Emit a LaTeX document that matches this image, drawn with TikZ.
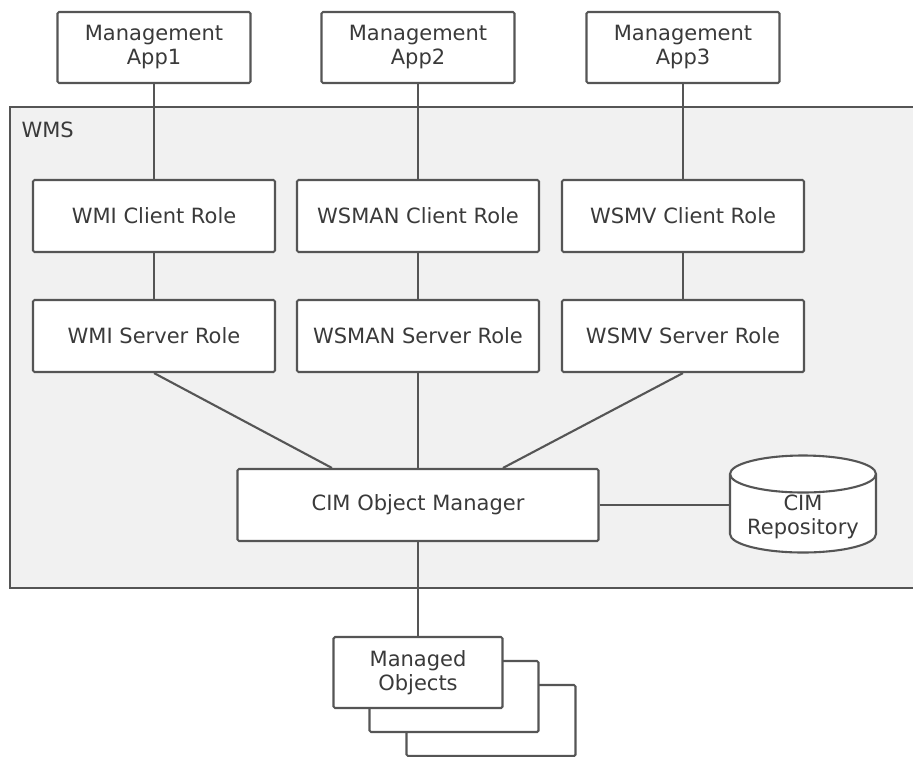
\documentclass[tikz,border=0pt]{standalone}
\usepackage{fontspec}
\setmainfont{DejaVu Sans}
\usetikzlibrary{calc}
\definecolor{edge}{HTML}{555555}
\definecolor{ink}{HTML}{3A3A3A}
\definecolor{panel}{HTML}{F1F1F1}
\begin{document}
\begin{tikzpicture}[x=1pt,y=-1pt,
  font=\fontsize{21}{24}\selectfont, text=ink,
  box/.style={draw=edge, line width=2.1pt, fill=white, rounded corners=1.5pt,
    align=center, inner sep=0pt, minimum height=72pt},
  appbox/.style={box, minimum width=193pt, minimum height=71pt},
  rolebox/.style={box, minimum width=242pt},
  mobox/.style={box, minimum width=169pt, minimum height=71pt},
  link/.style={draw=edge, line width=2.1pt}]
\useasboundingbox (0,0) rectangle (913,756);

% WMS container
\draw[draw=edge, line width=2.1pt, fill=panel] (916,107) -- (10,107) -- (10,588) -- (916,588);
\node[anchor=west] (wms) at (18,130) {WMS};

% management applications
\node[appbox] (a1) at (154,47.5) {Management\\App1};
\node[appbox] (a2) at (418,47.5) {Management\\App2};
\node[appbox] (a3) at (683,47.5) {Management\\App3};

% client roles
\node[rolebox] (c1) at (154,216) {WMI Client Role};
\node[rolebox] (c2) at (418,216) {WSMAN Client Role};
\node[rolebox] (c3) at (683,216) {WSMV Client Role};

% server roles
\node[rolebox] (s1) at (154,336) {WMI Server Role};
\node[rolebox] (s2) at (418,336) {WSMAN Server Role};
\node[rolebox] (s3) at (683,336) {WSMV Server Role};

% object manager
\node[box, minimum width=361pt] (cim) at (418,505) {CIM Object Manager};

% repository cylinder
\node[minimum width=146pt, minimum height=97pt, inner sep=0pt] (repo) at (803,505) {};
\draw[draw=edge, line width=2.1pt, fill=white]
  (730,474) -- (730,534) arc[start angle=180, end angle=360, x radius=73, y radius=-18.5]
  -- (876,474) arc[start angle=0, end angle=180, x radius=73, y radius=-18.5] -- cycle;
\draw[draw=edge, line width=2.1pt]
  (730,474) arc[start angle=180, end angle=360, x radius=73, y radius=-18.5];
\node[align=center] (repotext) at (803,517) {CIM\\Repository};

% managed objects, stacked
\node[mobox] (mo3) at (491,720.5) {};
\node[mobox] (mo2) at (454,696.5) {};
\node[mobox] (mo) at (418,672.5) {Managed\\Objects};

% connectors
\draw[link] (a1.south) -- (c1.north);
\draw[link] (a2.south) -- (c2.north);
\draw[link] (a3.south) -- (c3.north);
\draw[link] (c1.south) -- (s1.north);
\draw[link] (c2.south) -- (s2.north);
\draw[link] (c3.south) -- (s3.north);
\draw[link] (s1.south) -- ($(cim.north west)!0.263!(cim.north east)$);
\draw[link] (s2.south) -- (cim.north);
\draw[link] (s3.south) -- ($(cim.north west)!0.734!(cim.north east)$);
\draw[link] (cim.east) -- (repo.west);
\draw[link] (cim.south) -- (mo.north);
\end{tikzpicture}
\end{document}
